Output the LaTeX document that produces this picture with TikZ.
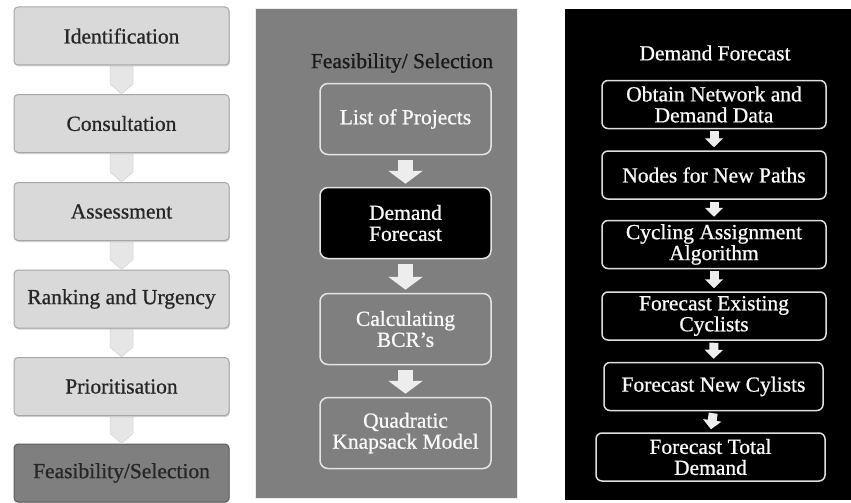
\documentclass[tikz,border=0pt]{standalone}
\usepackage{fontspec}
\setmainfont{Liberation Serif}[FakeBold=0.8]
\usetikzlibrary{arrows.meta,calc,shadows}

\definecolor{stagefill}{HTML}{D9D9D9}
\definecolor{stageedge}{HTML}{A6A6A6}
\definecolor{stagedark}{HTML}{7F7F7F}
\definecolor{stagedarkedge}{HTML}{5E5E5E}
\definecolor{panelgray}{HTML}{7F7F7F}
\definecolor{chevfill}{HTML}{E6E6E6}
\definecolor{arrowwhite}{HTML}{EDEDED}

\tikzset{
  boxfont/.style={font=\fontsize{21.5}{21}\selectfont},
  stage/.style={boxfont, draw=stageedge, line width=1pt, fill=stagefill, rounded corners=4pt,
    minimum width=215pt, minimum height=58pt, text=black!85,
    drop shadow={shadow xshift=0.8pt, shadow yshift=-1.5pt, opacity=0.35}},
  chevron/.style={fill=chevfill, draw=stageedge!50, line width=0.5pt},
  selbox/.style={boxfont, draw=white!80!gray, line width=1.5pt, fill=panelgray, rounded corners=8pt,
    minimum width=171pt, minimum height=71pt, text=white!95!gray, align=center},
  fcbox/.style={boxfont, draw=white!75!gray, line width=1.5pt, fill=black, rounded corners=6pt,
    minimum width=224pt, minimum height=48pt, text=white!95!gray, align=center},
  bigarrow/.style={draw=arrowwhite, line width=15pt, shorten <=5pt, shorten >=3pt,
    -{Triangle[length=13pt,width=34pt]}},
  smallarrow/.style={draw=arrowwhite, line width=9pt, shorten <=2pt, shorten >=3pt,
    -{Triangle[length=9pt,width=18pt]}}
}

\begin{document}
\begin{tikzpicture}[x=1pt,y=-1pt]
\useasboundingbox (0,0) rectangle (851,503);
% left column: planning stages
\node[stage] (ident) at (121.5,36) {Identification};
\node[stage] (consult) at (121.5,123.5) {Consultation};
\node[stage] (assess) at (121.5,211.5) {Assessment};
\node[stage] (rank) at (121.5,299) {Ranking and Urgency};
\node[stage] (prior) at (121.5,386.5) {Prioritisation};
\node[stage, fill=stagedark, draw=stagedarkedge] (feas) at (121.5,473) {Feasibility/Selection};
\foreach \a/\b in {ident/consult,consult/assess,assess/rank,rank/prior,prior/feas}
  \draw[chevron] ($(\a.south)+(-11.5,1)$) -- ($(\a.south)+(11.5,1)$)
    -- ($(\b.north)+(11.5,-10)$) -- (\b.north) -- ($(\b.north)+(-11.5,-10)$) -- cycle;

% middle panel: feasibility / selection
\node[fill=panelgray, draw=white!85!gray, line width=1pt, minimum width=262pt, minimum height=489pt, inner sep=0pt] (selpanel) at (386,253.5) {};
\node[boxfont, text=black!90] (seltitle) at (402,63) {Feasibility/ Selection};
\node[selbox] (projects) at (405.5,119) {List of Projects};
\node[selbox, fill=black] (demand) at (405.5,223) {Demand\\Forecast};
\node[selbox] (bcr) at (405.5,329) {Calculating\\BCR's};
\node[selbox] (knapsack) at (405.5,433) {Quadratic\\Knapsack Model};
\foreach \a/\b in {projects/demand,demand/bcr,bcr/knapsack}
  \draw[bigarrow] (\a.south) -- (\b.north);

% right panel: demand forecast
\node[fill=black, minimum width=286pt, minimum height=491pt, inner sep=0pt] (fcpanel) at (708,254.5) {};
\node[boxfont, text=white!95!gray] (fctitle) at (715,53) {Demand Forecast};
\node[fcbox] (obtain) at (714,104.5) {Obtain Network and\\Demand Data};
\node[fcbox] (paths) at (714,175) {Nodes for New Paths};
\node[fcbox] (assign) at (714,244.5) {Cycling Assignment\\Algorithm};
\node[fcbox] (existing) at (714,316) {Forecast Existing\\Cyclists};
\node[fcbox, minimum width=219pt] (newcyc) at (713.5,386.5) {Forecast New Cylists};
\node[fcbox, minimum width=229pt] (total) at (710.5,457) {Forecast Total\\Demand};
\foreach \a/\b in {obtain/paths,paths/assign,assign/existing,existing/newcyc,newcyc/total}
  \draw[smallarrow] (\a.south) -- (\b.north);
\end{tikzpicture}
\end{document}
